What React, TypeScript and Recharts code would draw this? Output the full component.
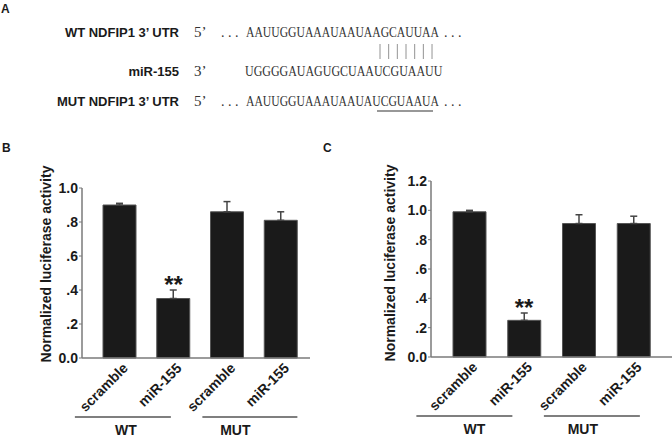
import React from "react";
import {
  ComposedChart,
  Bar,
  XAxis,
  YAxis,
  ErrorBar,
  Line,
  LabelList,
} from "recharts";

// bar categories and groups, same for both panels
const categories = ["scramble", "miR-155", "scramble", "miR-155"];
const marks = ["", "**", "", ""];

// panel B
const valuesB = [0.9, 0.35, 0.86, 0.81];
const errorsB = [0.01, 0.05, 0.06, 0.05];
const ticksB = [0, 0.2, 0.4, 0.6, 0.8, 1.0];

// panel C
const valuesC = [0.99, 0.25, 0.91, 0.91];
const errorsC = [0.01, 0.05, 0.06, 0.05];
const ticksC = [0, 0.2, 0.4, 0.6, 0.8, 1.0, 1.2];

// panel A sequences
const rowLabels = ["WT NDFIP1 3\u2019 UTR", "miR-155", "MUT NDFIP1 3\u2019 UTR"];
const rowEnds = ["5\u2019", "3\u2019", "5\u2019"];
const sequences = [
  "AAUUGGUAAAUAAUAAGCAUUAA",
  "UGGGGAUAGUGCUAAUCGUAAUU",
  "AAUUGGUAAAUAAUAUCGUAAUA",
];
const pairCount = 7;

const SANS = "'Liberation Sans', Arial, sans-serif";
const SERIF = "'Liberation Serif', 'Times New Roman', serif";
const INK = "#1a1a1a";
const AXIS = "#7a7a7a";

const buildData = (values: number[], errors: number[]) =>
  categories.map((name, i) => ({
    name,
    value: values[i],
    err: [0, errors[i]],
    star: marks[i] ? values[i] + errors[i] : null,
    mark: marks[i],
  }));

const dataB = buildData(valuesB, errorsB);
const dataC = buildData(valuesC, errorsC);

const fmt = (v: number) => {
  if (v === 0) return "0.0";
  if (v >= 1) return v.toFixed(1);
  return v.toFixed(1).replace("0.", ".");
};

interface Group {
  label: string;
  first: number;
  x1: number;
  x2: number;
  lx: number;
}

const groupsB: Group[] = [
  { label: "WT", first: 0, x1: -45, x2: 51, lx: 6 },
  { label: "MUT", first: 2, x1: -25, x2: 70, lx: 8 },
];
const groupsC: Group[] = [
  { label: "WT", first: 0, x1: -53, x2: 43, lx: 5 },
  { label: "MUT", first: 2, x1: -35, x2: 61, lx: 4 },
];

const CatTick = (props: any) => {
  const { x, y, payload, index, groups } = props;
  const g: Group | undefined = groups.find((gr: Group) => gr.first === index);
  return (
    <g>
      <g transform={`translate(${x + 9} ${y + 11}) rotate(-45)`}>
        <text
          x={0}
          y={0}
          textAnchor="end"
          fontFamily={SANS}
          fontWeight="bold"
          fontSize={14}
          fill={INK}
        >
          {payload.value}
        </text>
      </g>
      {g && (
        <g>
          <line
            x1={x + g.x1}
            x2={x + g.x2}
            y1={y + 59}
            y2={y + 59}
            stroke="#555"
            strokeWidth={1.5}
          />
          <text
            x={x + g.lx}
            y={y + 77}
            textAnchor="middle"
            fontFamily={SANS}
            fontWeight="bold"
            fontSize={14}
            fill={INK}
          >
            {g.label}
          </text>
        </g>
      )}
    </g>
  );
};

const StarLabel = (props: any) => {
  const { x, y, value } = props;
  if (!value || x == null || y == null) return null;
  return (
    <text
      x={x}
      y={y + 3}
      textAnchor="middle"
      fontFamily={SANS}
      fontWeight="bold"
      fontSize={24}
      fill={INK}
    >
      {value}
    </text>
  );
};

const YTitle = ({ cx, cy }: { cx: number; cy: number }) => (
  <text
    x={cx}
    y={cy}
    transform={`rotate(-90 ${cx} ${cy})`}
    textAnchor="middle"
    dominantBaseline="central"
    fontFamily={SANS}
    fontWeight="bold"
    fontSize={14}
    fill={INK}
  >
    Normalized luciferase activity
  </text>
);

interface PanelProps {
  data: ReturnType<typeof buildData>;
  ticks: number[];
  groups: Group[];
  margin: { top: number; right: number; bottom: number; left: number };
  xHeight: number;
  padding: { left: number; right: number };
  titleX: number;
  titleY: number;
}

const Panel = ({ data, ticks, groups, margin, xHeight, padding, titleX, titleY }: PanelProps) => (
  <ComposedChart width={336} height={437} data={data} margin={margin}>
    <XAxis
      dataKey="name"
      height={xHeight}
      padding={padding}
      axisLine={{ stroke: AXIS, strokeWidth: 1.5 }}
      tickLine={false}
      tickSize={0}
      tickMargin={0}
      interval={0}
      tick={<CatTick groups={groups} />}
    />
    <YAxis
      width={50}
      domain={[0, ticks[ticks.length - 1]]}
      ticks={ticks}
      tickFormatter={fmt}
      axisLine={{ stroke: AXIS, strokeWidth: 1.5 }}
      tickLine={{ stroke: AXIS }}
      tickSize={3}
      tickMargin={1}
      tick={{ fontFamily: SANS, fontWeight: "bold", fontSize: 14, fill: INK }}
      label={{ content: () => <YTitle cx={titleX} cy={titleY} /> }}
    />
    <Bar
      dataKey="value"
      barSize={33}
      fill={INK}
      stroke="#555"
      strokeWidth={1}
      isAnimationActive={false}
    >
      <ErrorBar dataKey="err" width={3.5} stroke="#444" strokeWidth={1.5} direction="y" />
    </Bar>
    <Line
      dataKey="star"
      stroke="none"
      dot={false}
      activeDot={false}
      isAnimationActive={false}
    >
      <LabelList dataKey="mark" content={<StarLabel />} />
    </Line>
  </ComposedChart>
);

// sequence rows are drawn in a horizontally squeezed serif
const seqX = [246, 245, 246];
const seqScale = [0.833, 0.855, 0.833];
const rowBase = [37, 76, 106];

const PanelA = () => (
  <svg width={672} height={130} style={{ position: "absolute", left: 0, top: 0 }}>
    {rowLabels.map((t, i) => (
      <g key={i}>
        <text
          x={179}
          y={rowBase[i]}
          textAnchor="end"
          fontFamily={SANS}
          fontWeight="bold"
          fontSize={13}
          fill={INK}
        >
          {t}
        </text>
        <text x={194} y={rowBase[i]} fontFamily={SERIF} fontSize={15} fill="#333">
          {rowEnds[i]}
        </text>
        {i !== 1 && (
          <text x={221} y={rowBase[i]} fontFamily={SERIF} fontSize={14} fill="#333">
            . . .
          </text>
        )}
        <g transform={`translate(${seqX[i]} ${rowBase[i]}) scale(${seqScale[i]} 1)`}>
          <text x={0} y={0} fontFamily={SERIF} fontSize={14} fill="#333">
            {sequences[i]}
          </text>
        </g>
        {i !== 1 && (
          <text x={444} y={rowBase[i]} fontFamily={SERIF} fontSize={14} fill="#333">
            . . .
          </text>
        )}
      </g>
    ))}
    {Array.from({ length: pairCount }).map((_, i) => (
      <line
        key={i}
        x1={380 + i * 8.67}
        x2={380 + i * 8.67}
        y1={44}
        y2={59}
        stroke="#777"
        strokeWidth={0.8}
      />
    ))}
    <line x1={377} x2={433} y1={111} y2={111} stroke="#333" strokeWidth={1.2} />
    <text x={1} y={13} fontFamily={SANS} fontWeight="bold" fontSize={12} fill={INK}>
      A
    </text>
  </svg>
);

export default function App() {
  return (
    <div
      style={{
        position: "absolute",
        left: 0,
        top: 0,
        width: 672,
        height: 437,
        background: "#fff",
        overflow: "hidden",
      }}
    >
      <PanelA />
      <div style={{ position: "absolute", left: 0, top: 0 }}>
        <Panel
          data={dataB}
          ticks={ticksB}
          groups={groupsB}
          margin={{ top: 188, right: 26, bottom: 0, left: 32 }}
          xHeight={79}
          padding={{ left: 11, right: 2 }}
          titleX={46}
          titleY={264}
        />
      </div>
      <div style={{ position: "absolute", left: 336, top: 0 }}>
        <Panel
          data={dataC}
          ticks={ticksC}
          groups={groupsC}
          margin={{ top: 181, right: 0, bottom: 0, left: 45 }}
          xHeight={80}
          padding={{ left: 11, right: 11 }}
          titleX={54}
          titleY={263}
        />
      </div>
      <svg width={672} height={20} style={{ position: "absolute", left: 0, top: 138 }}>
        <text x={2} y={14} fontFamily={SANS} fontWeight="bold" fontSize={12} fill={INK}>
          B
        </text>
        <text x={323} y={14} fontFamily={SANS} fontWeight="bold" fontSize={12} fill={INK}>
          C
        </text>
      </svg>
    </div>
  );
}
